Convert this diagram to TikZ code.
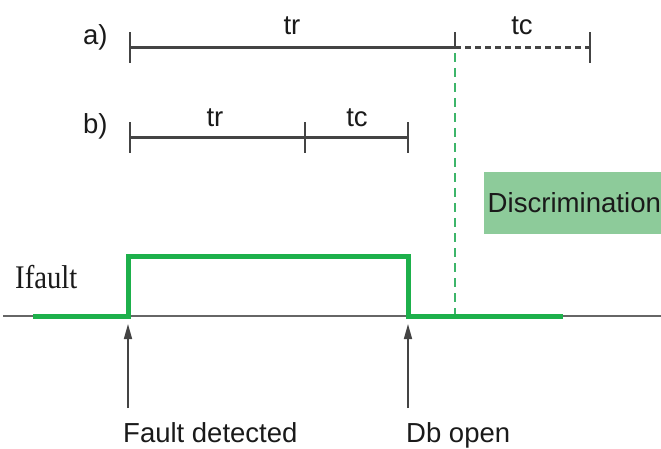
\documentclass[tikz,border=0pt]{standalone}
\usepackage{fontspec}
\setmainfont{Liberation Sans}
\newfontfamily\ifserif[FakeStretch=0.87]{Liberation Serif}
\usetikzlibrary{arrows.meta}
\definecolor{pulse}{HTML}{1DB04B}
\definecolor{dgreen}{HTML}{3DB56A}
\definecolor{boxgreen}{HTML}{8DCB9A}
\definecolor{ink}{HTML}{444444}
\definecolor{txt}{HTML}{1A1A1A}
\begin{document}
\begin{tikzpicture}[x=1pt,y=-1pt,
  lbl/.style={inner sep=0pt, font=\fontsize{27.5}{30}\selectfont, text=txt},
  bar/.style={draw=ink, line width=2.6pt},
  dbar/.style={draw=ink, line width=2.2pt, dash pattern=on 6pt off 4pt},
  tickmark/.style={draw=ink, line width=2pt},
  axis/.style={draw=black!60, line width=1.5pt},
  wave/.style={draw=pulse, line width=5pt, line join=miter},
  marker/.style={draw=dgreen, line width=2pt, dash pattern=on 9pt off 6pt},
  arr/.style={draw=ink, line width=1.6pt, -{Triangle[length=15pt,width=8pt]}},
  discbox/.style={fill=boxgreen, anchor=west, minimum height=61pt, text width=190pt, inner xsep=3.5pt, align=left, font=\fontsize{27.6}{30}\selectfont, text=txt}
]
\useasboundingbox (0,0) rectangle (661,449);
\clip (0,0) rectangle (661,449);

% row a)
\coordinate (a0) at (130,47.5);
\coordinate (a1) at (455,47.5);
\coordinate (a2) at (590,47.5);
\draw[bar] (a0) -- (a1);
\draw[dbar] (a1) -- (a2);
\draw[tickmark] ([yshift=15pt]a0) -- ([yshift=-16pt]a0);
\draw[tickmark] ([yshift=15pt]a1) -- (a1);
\draw[tickmark] ([yshift=15pt]a2) -- ([yshift=-16pt]a2);
\node[lbl, anchor=base west] (la) at (83,45) {a)};
\node[lbl, anchor=base] (atr) at (292,35) {tr};
\node[lbl, anchor=base] (atc) at (522,35) {tc};

% row b)
\coordinate (b0) at (130,137.5);
\coordinate (b1) at (305,137.5);
\coordinate (b2) at (408,137.5);
\draw[bar] (b0) -- (b2);
\draw[tickmark] ([yshift=15pt]b0) -- ([yshift=-16pt]b0);
\draw[tickmark] ([yshift=15pt]b1) -- ([yshift=-16pt]b1);
\draw[tickmark] ([yshift=15pt]b2) -- ([yshift=-16pt]b2);
\node[lbl, anchor=base west] (lb) at (83,134) {b)};
\node[lbl, anchor=base] (btr) at (215,127) {tr};
\node[lbl, anchor=base] (btc) at (357,127) {tc};

% discrimination marker
\coordinate (m0) at (455,53);
\coordinate (m1) at (455,316);
\draw[marker] (m0) -- (m1);
\node[discbox] (disc) at (484,203) {Discrimination};

% axis and fault current
\coordinate (x0) at (3,316);
\coordinate (x1) at (661,316);
\draw[axis] (x0) -- (x1);
\coordinate (p0) at (33,316);
\coordinate (p1) at (128,316);
\coordinate (p2) at (128,256);
\coordinate (p3) at (408,256);
\coordinate (p4) at (408,316);
\coordinate (p5) at (563,316);
\draw[wave] (p0) -- (p1) -- (p2) -- (p3) -- (p4) -- (p5);
\node[inner sep=0pt, anchor=base west, font=\ifserif\fontsize{33}{36}\selectfont, text=txt] (ifault) at (15,288) {Ifault};

% event arrows
\coordinate (f0) at (128,408);
\coordinate (f1) at (128,324);
\coordinate (d0) at (408,408);
\coordinate (d1) at (408,324);
\draw[arr] (f0) -- (f1);
\draw[arr] (d0) -- (d1);
\node[lbl, anchor=base west] (fd) at (123,442) {Fault detected};
\node[lbl, anchor=base west] (db) at (406,442) {Db open};
\end{tikzpicture}
\end{document}
